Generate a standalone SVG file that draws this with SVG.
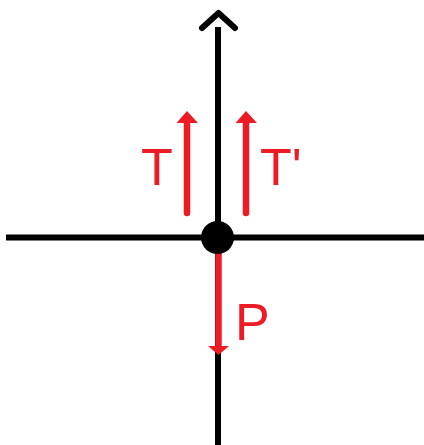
<svg xmlns="http://www.w3.org/2000/svg" width="424" height="445" viewBox="0 0 424 445">
<style>
.axis{stroke:#000;stroke-width:6;fill:none}
.force{stroke:#ED1C24;stroke-width:6.5;fill:none;stroke-linecap:round}
.head{fill:#ED1C24}
.lbl{font-family:"Liberation Sans",Arial,sans-serif;font-size:52px;fill:#ED1C24}
</style>
<rect width="424" height="445" fill="#fff"/>
<g id="connectors">
<line class="axis" x1="6" y1="237.5" x2="424" y2="237.5"/>
<line class="axis" x1="218" y1="27" x2="218" y2="445"/>
<polyline class="axis" points="202,28 218.5,13 235,28" stroke-linecap="round" stroke-linejoin="round"/>
</g>
<g id="T">
<line class="force" x1="187" y1="121" x2="187" y2="213"/>
<polygon class="head" points="187,111 176.5,123 198,123"/>
<text class="lbl" x="141" y="185">T</text>
</g>
<g id="Tprime">
<line class="force" x1="246" y1="121" x2="246" y2="213"/>
<polygon class="head" points="246,111 235.5,123 257,123"/>
<text class="lbl" x="260" y="185">T'</text>
</g>
<g id="P">
<line class="force" x1="218.5" y1="250" x2="218.5" y2="348" stroke-linecap="butt"/>
<polygon class="head" points="218.5,355 208,346 229,346"/>
<text class="lbl" x="235" y="340">P</text>
</g>
<g id="joint">
<circle cx="217.5" cy="237.5" r="16.5" fill="#000"/>
</g>
</svg>
